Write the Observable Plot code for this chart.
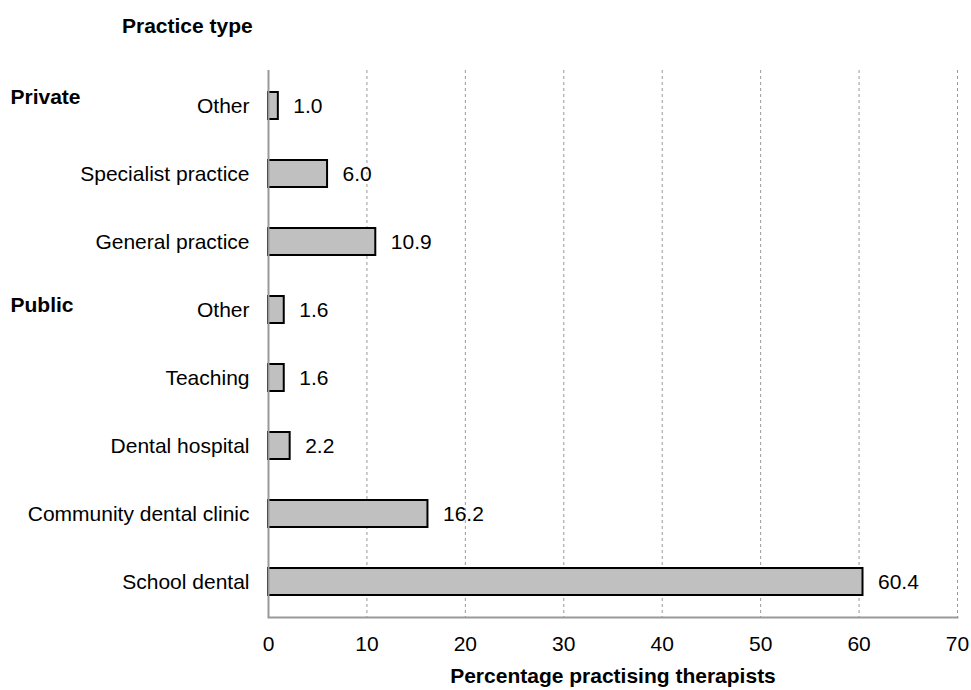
<!DOCTYPE html>
<html>
<head>
<meta charset="utf-8">
<script src="https://cdn.jsdelivr.net/npm/d3@7"></script>
<script src="https://cdn.jsdelivr.net/npm/@observablehq/plot@0.6"></script>
<style>
  body { margin: 0; background: #fff; }
  #chart { position: relative; width: 971px; height: 690px; font-family: "Liberation Sans", Arial, sans-serif; }
  #title { position: absolute; left: 122px; top: 14px; font-weight: bold; font-size: 21px; line-height: 24px; color: #000; }
  svg { position: absolute; left: 0; top: 0; }
</style>
</head>
<body>
<div id="chart"><div id="title">Practice type</div></div>
<script>
const keys = ["priv-other", "priv-spec", "priv-gen", "pub-other", "pub-teach", "pub-hosp", "pub-comm", "pub-school"];
const categories = ["Other", "Specialist practice", "General practice", "Other", "Teaching", "Dental hospital", "Community dental clinic", "School dental"];
const values = [1.0, 6.0, 10.9, 1.6, 1.6, 2.2, 16.2, 60.4];
const groups = [{key: "priv-other", label: "Private"}, {key: "pub-other", label: "Public"}];
const xTicks = [0, 10, 20, 30, 40, 50, 60, 70];

const data = keys.map((k, i) => ({key: k, cat: categories[i], value: values[i]}));
const labelOf = new Map(keys.map((k, i) => [k, categories[i]]));

const chart = Plot.plot({
  width: 971,
  height: 690,
  marginLeft: 268,
  marginRight: 14,
  marginTop: 70,
  marginBottom: 73,
  style: {fontFamily: "'Liberation Sans', Arial, sans-serif", fontSize: "21px", background: "transparent", color: "#000"},
  x: {domain: [0, 70], ticks: xTicks, tickSize: 0, label: null},
  y: {domain: keys, paddingInner: 0.6, paddingOuter: 0.3, label: null, tickSize: 0},
  marks: [
    Plot.ruleX(xTicks.filter(d => d > 0), {stroke: "#999", strokeDasharray: "3,3", strokeWidth: 1}),
    Plot.barX(data, {x: "value", y: "key", fill: "#c0c0c0", stroke: "#000", strokeWidth: 2}),
    Plot.ruleX([0], {stroke: "#999", strokeWidth: 2}),
    Plot.frame({anchor: "bottom", stroke: "#999", strokeWidth: 2}),
    Plot.text(data, {x: "value", y: "key", text: d => d.value.toFixed(1), textAnchor: "start", dx: 15, fontSize: 21, fill: "#000"}),
    Plot.text(groups.slice(0, 1), {y: "key", text: "label", frameAnchor: "left", textAnchor: "start", dx: -258, dy: -9, fontWeight: "bold", fontSize: 21, fill: "#000"}),
    Plot.text(groups.slice(1), {y: "key", text: "label", frameAnchor: "left", textAnchor: "start", dx: -258, dy: -5, fontWeight: "bold", fontSize: 21, fill: "#000"}),
    Plot.text(["Percentage practising therapists"], {frameAnchor: "bottom", text: d => d, dy: 65, fontWeight: "bold", fontSize: 21, fill: "#000"}),
    Plot.axisX({ticks: xTicks, tickSize: 0, tickPadding: 19, fontSize: 21, label: null}),
    Plot.axisY({tickSize: 0, tickPadding: 19, fontSize: 21, label: null, tickFormat: d => labelOf.get(d)})
  ]
});
document.getElementById("chart").appendChild(chart);
</script>
</body>
</html>
